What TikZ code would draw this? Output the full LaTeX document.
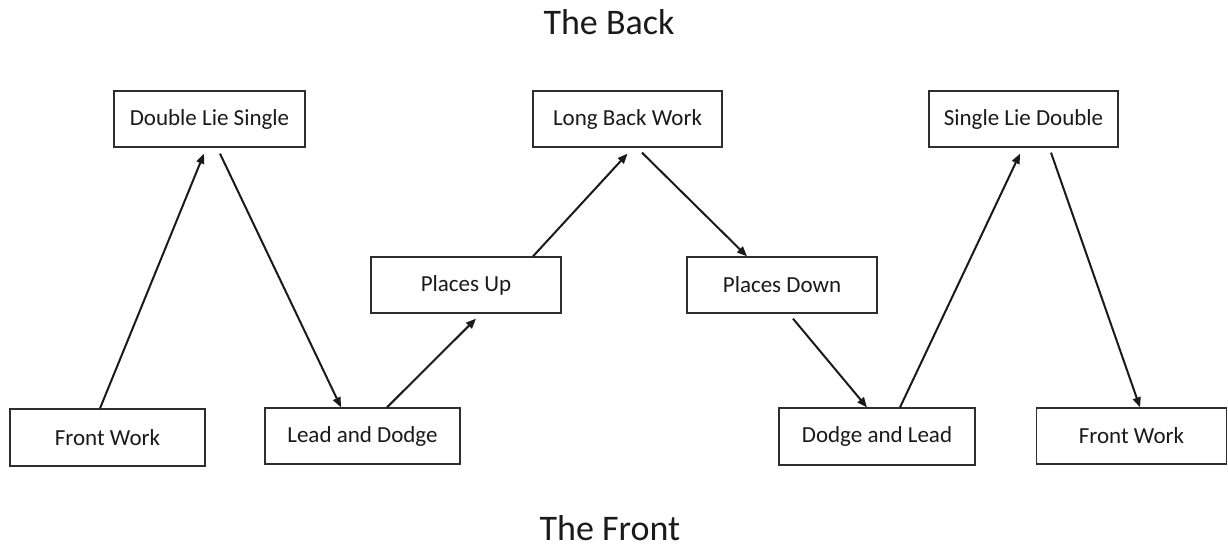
\documentclass[tikz,border=0pt]{standalone}
\usepackage{fontspec}
\setmainfont{Carlito}
\usetikzlibrary{arrows.meta}
\definecolor{ink}{HTML}{1A1A1A}
\definecolor{edge}{HTML}{2E2E2E}
\tikzset{
  stepbox/.style={draw=edge, line width=1.3pt, rectangle, inner sep=0pt,
    minimum height=56pt, text=ink, font=\fontsize{23}{27}\selectfont},
  conn/.style={draw=ink, line width=2pt,
    -{Triangle[length=10pt,width=8pt]}},
  title/.style={text=ink, font=\fontsize{36}{42}\selectfont, anchor=base, inner sep=0pt}
}
\begin{document}
\begin{tikzpicture}[x=1pt,y=-1pt]
\path[use as bounding box] (0,0) rectangle (1228,548);
\fill[white] (0,0) rectangle (1228,548);

\node[title] (back) at (609,35) {The Back};
\node[title] (front) at (610,540) {The Front};

\node[stepbox, minimum width=191pt] (dls) at (209.5,119) {Double Lie Single};
\node[stepbox, minimum width=189pt] (lbw) at (627.5,119) {Long Back Work};
\node[stepbox, minimum width=189pt] (sld) at (1023.5,119) {Single Lie Double};
\node[stepbox, minimum width=190pt] (pu) at (466,285) {Places Up};
\node[stepbox, minimum width=190pt] (pd) at (782,285) {Places Down};
\node[stepbox, minimum width=195pt, minimum height=57pt] (fw1) at (107.5,437.5) {Front Work};
\node[stepbox, minimum width=195pt] (ld) at (362.5,436) {Lead and Dodge};
\node[stepbox, minimum width=196pt, minimum height=57pt] (dl) at (877,436.5) {Dodge and Lead};
\node[stepbox, minimum width=190pt] (fw2) at (1131.5,436) {Front Work};

\draw[conn] ([xshift=-7.5pt]fw1.north) -- ([xshift=-5.5pt,yshift=-6pt]dls.south);
\draw[conn] ([xshift=10.5pt,yshift=-6pt]dls.south) -- ([xshift=-21.5pt]ld.north);
\draw[conn] ([xshift=24.5pt]ld.north) -- ([xshift=10pt,yshift=-5pt]pu.south);
\draw[conn] ([xshift=67pt]pu.north) -- ([yshift=-6pt]lbw.south);
\draw[conn] ([xshift=14.5pt,yshift=-5pt]lbw.south) -- ([xshift=-35pt]pd.north);
\draw[conn] ([xshift=11pt,yshift=-5pt]pd.south) -- ([xshift=-10pt]dl.north);
\draw[conn] ([xshift=23pt]dl.north) -- ([xshift=-3.5pt,yshift=-6pt]sld.south);
\draw[conn] ([xshift=27.5pt,yshift=-5pt]sld.south) -- ([xshift=8.5pt]fw2.north);
\end{tikzpicture}
\end{document}
